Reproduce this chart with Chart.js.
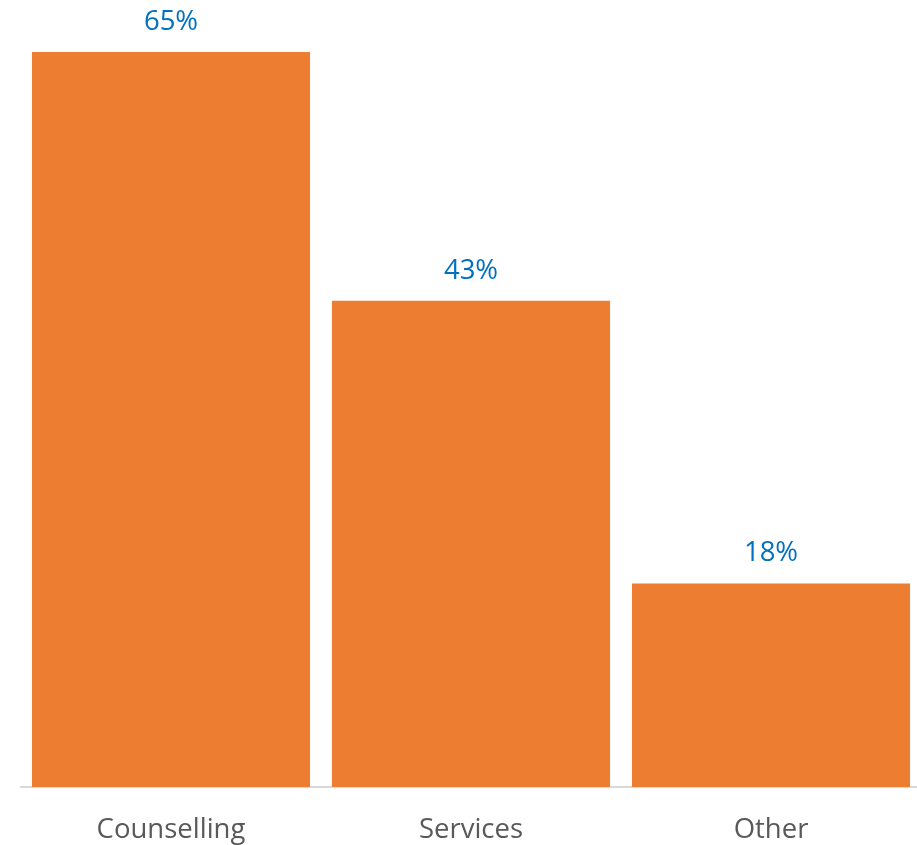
<!DOCTYPE html>
<html>
<head>
<meta charset="utf-8">
<script src="https://cdn.jsdelivr.net/npm/chart.js@4"></script>
<style>
  html, body { margin: 0; padding: 0; background: #fff; overflow: hidden; }
  #wrap { position: relative; width: 925px; height: 874px; }
</style>
</head>
<body>
<div id="wrap"><canvas id="shareChart"></canvas></div>
<script>
const categories = ['Counselling', 'Services', 'Other'];
const shares = [65, 43, 18];
const valueLabels = ['65%', '43%', '18%'];

const ctx = document.getElementById('shareChart').getContext('2d');

// writes the percentage above each bar
const barLabels = {
  id: 'barLabels',
  afterDatasetsDraw(chart) {
    const c = chart.ctx;
    const meta = chart.getDatasetMeta(0);
    c.save();
    c.font = '27.5px "Open Sans"';
    c.fillStyle = '#0070C0';
    c.textAlign = 'center';
    c.textBaseline = 'middle';
    meta.data.forEach((bar, i) => {
      c.fillText(valueLabels[i], bar.x, bar.y - 30);
    });
    c.restore();
  }
};

const shareChart = new Chart(ctx, {
  type: 'bar',
  data: {
    labels: categories,
    datasets: [{
      data: shares,
      backgroundColor: '#ED7D31',
      borderWidth: 0,
      barPercentage: 1,
      categoryPercentage: 0.927
    }]
  },
  options: {
    responsive: true,
    maintainAspectRatio: false,
    animation: false,
    layout: {
      padding: { left: 21, right: 4, top: 0, bottom: 0 }
    },
    scales: {
      x: {
        grid: { display: false, drawTicks: false },
        border: { display: true, color: '#d9d9d9', width: 2 },
        ticks: {
          color: '#595959',
          padding: 27,
          font: { family: 'Open Sans', size: 27.5 }
        }
      },
      y: {
        display: false,
        min: 0,
        max: 69.6
      }
    },
    plugins: {
      legend: { display: false },
      tooltip: { enabled: false }
    }
  },
  plugins: [barLabels]
});
</script>
</body>
</html>
